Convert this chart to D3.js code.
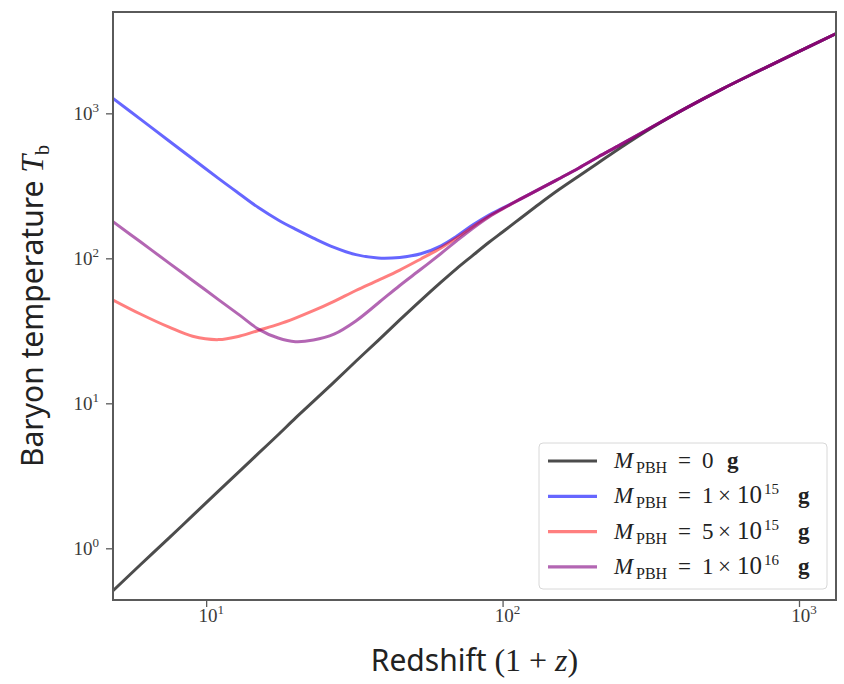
<!DOCTYPE html>
<html>
<head>
<meta charset="utf-8">
<script src="https://cdn.jsdelivr.net/npm/d3@7"></script>
<style>
  html, body { margin: 0; padding: 0; background: #fff; }
  svg { display: block; }
</style>
</head>
<body>
<svg id="chart" width="844" height="684"></svg>
<script>
// Redshift grid (1 + z) shared by all curves
const redshift = [4.85, 6, 7.5, 9, 11, 13, 15, 17.5, 20, 23, 27, 32, 38, 45, 53, 62, 70, 79, 90, 100, 115, 133, 155, 181, 210, 250, 320, 420, 550, 720, 950, 1330];

// Baryon temperature T_b [K] for each PBH mass
const tbNoPBH = [0.51, 0.77, 1.18, 1.68, 2.48, 3.42, 4.51, 6.07, 7.9, 10.3, 14.0, 19.5, 27.1, 37.6, 51.3, 68.5, 85, 104, 129, 152, 189, 237, 298, 370, 455, 580, 800, 1100, 1470, 1930, 2540, 3540];
const tbM1e15 = [1268, 912, 645, 486, 356, 277, 224, 184, 159, 138, 119, 106, 100.5, 101.5, 107.5, 122, 142, 169, 199, 222, 257, 300, 354, 420, 500, 608, 808, 1100, 1470, 1930, 2540, 3540];
const tbM5e15 = [51.6, 41.3, 33.5, 29, 27.5, 29.1, 31.8, 35, 38.7, 43.5, 50.5, 60, 70.5, 83, 99, 118, 138, 164, 195, 220, 257, 300, 354, 420, 500, 608, 808, 1100, 1470, 1930, 2540, 3540];
const tbM1e16 = [179, 130, 92.7, 70.4, 51.9, 40.4, 32.5, 28.2, 26.6, 27.3, 30, 37, 49, 65, 84, 108, 132, 160, 193, 219, 256, 300, 354, 420, 500, 608, 808, 1100, 1470, 1930, 2540, 3540];

const seriesValues = [tbNoPBH, tbM1e15, tbM5e15, tbM1e16];
const seriesColors = ["#000000", "#0000ff", "#ff0000", "#800080"];
const seriesAlpha  = [0.7, 0.6, 0.5, 0.6];
// Legend labels: [mantissa, exponent]; null exponent means a plain number
const legendLabels = [["0", null], ["1", "15"], ["5", "15"], ["1", "16"]];

const xMajor = [10, 100, 1000];
const yMajor = [1, 10, 100, 1000];

const svg = d3.select("#chart");
const L = 113, R = 836, T = 12, B = 600;

const x = d3.scaleLog().domain([4.85, 1333]).range([L, R]);
const y = d3.scaleLog().domain([0.44, 5000]).range([B, T]);

// minor ticks for each decade
function minorTicks(scale) {
  const [a, b] = scale.domain();
  const out = [];
  for (let e = Math.floor(Math.log10(a)); e <= Math.ceil(Math.log10(b)); e++) {
    for (let m = 2; m <= 9; m++) {
      const v = m * Math.pow(10, e);
      if (v >= a && v <= b) out.push(v);
    }
  }
  return out;
}

const axisColor = "#5a5a5a";
const serif = "'Liberation Serif', 'DejaVu Serif', serif";
const sans = "'Noto Sans', 'DejaVu Sans', sans-serif";

// clip region for curves
svg.append("clipPath").attr("id", "plotclip")
  .append("rect").attr("x", L).attr("y", T).attr("width", R - L).attr("height", B - T);

// curves
const line = d3.line()
  .x(d => x(d[0]))
  .y(d => y(d[1]))
  .curve(d3.curveCatmullRom.alpha(0.5));

const curves = svg.append("g").attr("clip-path", "url(#plotclip)");
seriesValues.forEach((vals, i) => {
  curves.append("path")
    .datum(redshift.map((r, k) => [r, vals[k]]))
    .attr("d", line)
    .attr("fill", "none")
    .attr("stroke", seriesColors[i])
    .attr("stroke-opacity", seriesAlpha[i])
    .attr("stroke-width", 3)
    .attr("stroke-linejoin", "round");
});

// axes: bottom
const gx = svg.append("g").attr("transform", `translate(0,${B})`);
gx.call(d3.axisBottom(x).tickValues(minorTicks(x)).tickSize(4).tickFormat(""));
gx.call(d3.axisBottom(x).tickValues(xMajor).tickSize(7).tickFormat(""));
gx.selectAll(".domain").remove();
gx.selectAll("line").attr("stroke", axisColor).attr("stroke-width", 1.3);

// axes: left
const gy = svg.append("g").attr("transform", `translate(${L},0)`);
gy.call(d3.axisLeft(y).tickValues(minorTicks(y)).tickSize(4).tickFormat(""));
gy.call(d3.axisLeft(y).tickValues(yMajor).tickSize(7).tickFormat(""));
gy.selectAll(".domain").remove();
gy.selectAll("line").attr("stroke", axisColor).attr("stroke-width", 1.3);

// power-of-ten tick labels
function powLabel(sel, v) {
  const e = Math.round(Math.log10(v));
  sel.append("tspan").text("10");
  sel.append("tspan").attr("dy", -8).attr("font-size", 13).text(String(e));
}
xMajor.forEach(v => {
  const t = svg.append("text")
    .attr("x", x(v) + 5).attr("y", B + 22)
    .attr("text-anchor", "middle")
    .attr("font-family", serif).attr("font-size", 19)
    .attr("fill", "#3a3a3a");
  powLabel(t, v);
});
yMajor.forEach(v => {
  const t = svg.append("text")
    .attr("x", L - 14).attr("y", y(v) + 7)
    .attr("text-anchor", "end")
    .attr("font-family", serif).attr("font-size", 19)
    .attr("fill", "#3a3a3a");
  powLabel(t, v);
});

// frame
svg.append("rect")
  .attr("x", L).attr("y", T).attr("width", R - L).attr("height", B - T)
  .attr("fill", "none").attr("stroke", axisColor).attr("stroke-width", 2);

// axis titles
const xt = svg.append("text")
  .attr("x", (L + R) / 2).attr("y", 671)
  .attr("text-anchor", "middle")
  .attr("font-family", sans).attr("font-size", 30).attr("fill", "#222");
xt.append("tspan").text("Redshift ");
xt.append("tspan").attr("font-family", serif).attr("font-size", 32).text("(1 + ");
xt.append("tspan").attr("font-family", serif).attr("font-size", 32).attr("font-style", "italic").text("z");
xt.append("tspan").attr("font-family", serif).attr("font-size", 32).text(")");

const yt = svg.append("text")
  .attr("transform", `translate(43,${(T + B) / 2}) rotate(-90)`)
  .attr("text-anchor", "middle")
  .attr("font-family", sans).attr("font-size", 30).attr("fill", "#222");
yt.append("tspan").text("Baryon temperature ");
yt.append("tspan").attr("font-family", serif).attr("font-size", 32).attr("font-style", "italic").text("T");
yt.append("tspan").attr("font-family", serif).attr("font-size", 20).attr("dy", 6).text("b");

// legend
const lg = svg.append("g");
lg.append("rect")
  .attr("x", 539).attr("y", 443).attr("width", 288).attr("height", 146)
  .attr("rx", 4).attr("fill", "#fff").attr("fill-opacity", 0.85)
  .attr("stroke", "#d8d8d8").attr("stroke-width", 1);

legendLabels.forEach(([m, e], i) => {
  const cy = 461 + i * 35.3;
  lg.append("line")
    .attr("x1", 548).attr("x2", 597).attr("y1", cy).attr("y2", cy)
    .attr("stroke", seriesColors[i]).attr("stroke-opacity", seriesAlpha[i])
    .attr("stroke-width", 3.2);
  const t = lg.append("text")
    .attr("y", cy + 7)
    .attr("font-family", serif).attr("font-size", 23).attr("fill", "#222");
  t.append("tspan").attr("x", 614).attr("font-style", "italic").text("M");
  t.append("tspan").attr("x", 636).attr("font-size", 16).attr("dy", 5).text("PBH");
  t.append("tspan").attr("x", 678).attr("dy", -5).text("=");
  t.append("tspan").attr("x", 702).text(m);
  if (e === null) {
    t.append("tspan").attr("x", 727).attr("font-weight", "bold").text("g");
  } else {
    t.append("tspan").attr("x", 718).text("×");
    t.append("tspan").attr("x", 737).attr("font-size", 25).text("10");
    t.append("tspan").attr("x", 764).attr("font-size", 15).attr("dy", -9).text(e);
    t.append("tspan").attr("x", 798).attr("dy", 9).attr("font-weight", "bold").text("g");
  }
});
</script>
</body>
</html>
